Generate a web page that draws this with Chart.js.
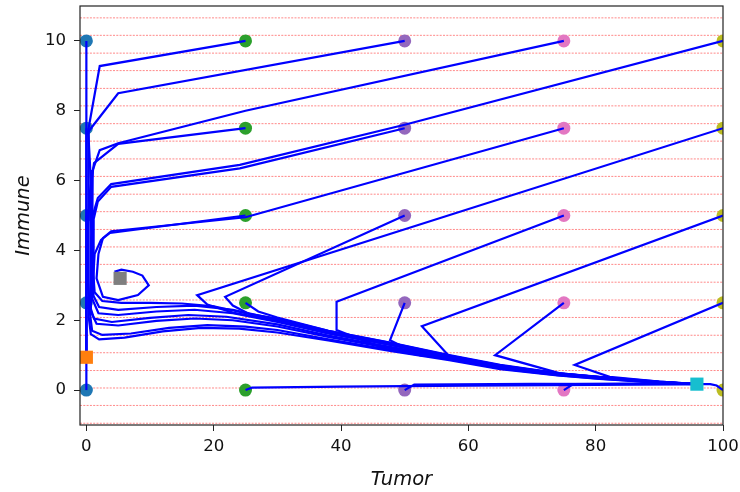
<!DOCTYPE html>
<html>
<head>
<meta charset="utf-8">
<script src="https://cdn.jsdelivr.net/npm/chart.js@4.4.1/dist/chart.umd.min.js"></script>
<style>
  body { margin: 0; background: #fff; }
  canvas { display: block; }
</style>
</head>
<body>
<canvas id="phase" width="740" height="492"></canvas>
<script>
// starting grid of the simulations
const startTumor = [0, 25, 50, 75, 100];
const startImmune = [0, 2.5, 5, 7.5, 10];
const startColors = ['#1f77b4', '#2ca02c', '#9467bd', '#e377c2', '#bcbd22'];

// fixed points (tumor, immune)
const fixedPoints = [[0, 0.94], [5.3, 3.2], [95.9, 0.17]];
const fixedColors = ['#ff7f0e', '#7f7f7f', '#17becf'];

// dotted reference levels of the immune variable
const guideLevels = [-0.95, -0.44, 0.06, 0.56, 1.07, 1.57, 2.08, 2.58, 3.09, 3.6, 4.1, 4.6,
  5.11, 5.61, 6.12, 6.62, 7.13, 7.63, 8.14, 8.64, 9.15, 9.65, 10.16, 10.66];

const xTicks = [0, 20, 40, 60, 80, 100];
const yTicks = [0, 2, 4, 6, 8, 10];

// trajectories, one list of (tumor, immune) per start point
const trajectories = [
  [[0, 10], [0, 0.94]],
  [[0, 7.5], [0, 0.94]],
  [[0, 5], [0, 0.94]],
  [[0, 2.5], [0, 0.94]],
  [[0, 0], [0, 0.94]],
  [[25, 10], [2.1, 9.28], [0.3, 7.45], [0.35, 6.0], [0.4, 4.5], [0.35, 3.0], [0.35, 2.1], [0.7, 1.6], [2, 1.45], [6, 1.5], [12, 1.68], [18, 1.78], [24, 1.76], [30, 1.65], [38, 1.42], [47.7, 1.12], [57, 0.86], [65, 0.6], [74, 0.42], [80.6, 0.32], [90, 0.21], [95.9, 0.17]],
  [[50, 10], [5, 8.5], [0.3, 7.4], [0.7, 6], [0.75, 4.5], [0.7, 3.2], [0.5, 2.3], [0.9, 1.7], [2.5, 1.58], [7, 1.62], [13, 1.78], [19, 1.86], [25, 1.82], [30, 1.72], [38, 1.45], [47.7, 1.15], [57, 0.88], [65, 0.62], [74, 0.43], [80.6, 0.33], [90, 0.21], [95.9, 0.17]],
  [[75, 10], [25, 8.0], [5, 7.07], [2.1, 6.87], [1.0, 6.3], [0.9, 5.2], [0.9, 4], [0.75, 2.8], [0.7, 2.25], [1.6, 1.9], [5, 1.85], [11, 1.98], [17, 2.05], [23, 2.0], [30, 1.82], [38, 1.52], [47.7, 1.2], [57, 0.9], [65, 0.64], [74, 0.44], [80.6, 0.34], [90, 0.22], [95.9, 0.17]],
  [[100, 10], [50, 7.6], [24.1, 6.45], [3.9, 5.9], [1.8, 5.5], [1.0, 5.0], [1.0, 4.2], [0.95, 3.2], [0.9, 2.6], [1.9, 2.2], [5, 2.15], [11, 2.25], [17, 2.3], [23, 2.2], [30, 1.95], [38, 1.62], [47.7, 1.3], [57, 0.96], [65, 0.68], [74, 0.47], [80.6, 0.36], [90, 0.23], [95.9, 0.17]],
  [[25, 7.5], [5, 7.05], [1.2, 6.5], [0.5, 5.6], [0.2, 4.5], [0.2, 3.2], [0.4, 2.5], [1.2, 2.05], [4, 1.95], [10, 2.07], [16, 2.15], [22, 2.1], [30, 1.88], [38, 1.56], [47.7, 1.24], [57, 0.93], [65, 0.66], [74, 0.45], [80.6, 0.35], [90, 0.22], [95.9, 0.17]],
  [[50, 7.5], [24.1, 6.35], [3.9, 5.82], [1.8, 5.4], [1.15, 4.9], [1.1, 4.0], [1.1, 3.2], [1.15, 2.7], [2, 2.38], [5, 2.3], [11, 2.38], [17, 2.42], [23, 2.3], [30, 2.02], [38, 1.66], [47.7, 1.33], [57, 0.98], [65, 0.7], [74, 0.48], [80.6, 0.37], [90, 0.23], [95.9, 0.17]],
  [[75, 7.5], [25, 4.95], [3.9, 4.55], [2.6, 4.35], [1.9, 3.9], [1.6, 3.2], [2.6, 2.67], [5, 2.58], [8.1, 2.72], [9.8, 3.0], [8.8, 3.28], [7.3, 3.39], [5.5, 3.45], [4.6, 3.4], [5.3, 3.2]],
  [[25, 5], [3.7, 4.5], [2.3, 4.3], [1.3, 3.9], [1.1, 3.3], [1.3, 2.8], [2.5, 2.55], [5.5, 2.5], [10, 2.5], [15, 2.48], [20, 2.4], [25, 2.2], [30, 2.05], [38, 1.7], [47.7, 1.36], [57, 1.0], [65, 0.72], [74, 0.49], [80.6, 0.38], [90, 0.24], [95.9, 0.17]],
  [[100, 7.5], [17.4, 2.72], [19, 2.45], [23, 2.22], [30, 1.98], [38, 1.64], [47.7, 1.3], [57, 0.97], [65, 0.69], [74, 0.47], [80.6, 0.36], [90, 0.23], [95.9, 0.17]],
  [[50, 5], [21.8, 2.67], [23, 2.42], [26.2, 2.12], [30, 1.98], [38, 1.63], [47.7, 1.3], [57, 0.96], [65, 0.68], [74, 0.47], [80.6, 0.36], [90, 0.23], [95.9, 0.17]],
  [[75, 5], [39.3, 2.53], [39.3, 1.72], [46.9, 1.18], [52.4, 1.0], [57, 0.9], [65, 0.65], [74, 0.45], [80.6, 0.35], [90, 0.22], [95.9, 0.17]],
  [[100, 5], [52.7, 1.83], [57.1, 0.95], [65, 0.66], [74, 0.46], [80.6, 0.35], [90, 0.22], [95.9, 0.17]],
  [[50, 2.5], [47.7, 1.43], [52.4, 1.0], [57, 0.92], [65, 0.65], [74, 0.45], [80.6, 0.35], [90, 0.22], [95.9, 0.17]],
  [[75, 2.5], [64.2, 1.0], [74.4, 0.48], [80.6, 0.37], [90, 0.23], [95.9, 0.17]],
  [[100, 2.5], [76.7, 0.72], [82.2, 0.38], [90, 0.24], [95.9, 0.17]],
  [[25, 2.5], [27, 2.25], [30, 2.08], [38, 1.7], [47.7, 1.35], [57, 0.99], [65, 0.71], [74, 0.48], [80.6, 0.37], [90, 0.23], [95.9, 0.17]],
  [[25, 0], [26, 0.07], [40, 0.1], [60, 0.13], [80, 0.15], [95.9, 0.17]],
  [[50, 0], [51.5, 0.16], [70, 0.18], [95.9, 0.17]],
  [[75, 0], [76.5, 0.17], [90, 0.19], [95.9, 0.17]],
  [[100, 0], [99, 0.13], [98, 0.17], [95.9, 0.17]]
];

const toPoints = pts => pts.map(p => ({ x: p[0], y: p[1] }));

const datasets = [];

guideLevels.forEach(level => {
  datasets.push({
    data: [{ x: -1, y: level }, { x: 100, y: level }],
    showLine: true,
    borderColor: 'rgba(255, 40, 40, 0.55)',
    borderWidth: 1,
    borderDash: [2, 1.3],
    pointRadius: 0,
    order: 4
  });
});

startTumor.forEach((x0, i) => {
  datasets.push({
    data: startImmune.map(y0 => ({ x: x0, y: y0 })),
    showLine: false,
    pointStyle: 'circle',
    pointRadius: 6.5,
    pointBackgroundColor: startColors[i],
    pointBorderWidth: 0,
    clip: 0,
    order: 3
  });
});

trajectories.forEach(path => {
  datasets.push({
    data: toPoints(path),
    showLine: true,
    borderColor: '#0000ff',
    borderWidth: 2.2,
    pointRadius: 0,
    tension: 0,
    order: 2
  });
});

fixedPoints.forEach((p, i) => {
  datasets.push({
    data: [{ x: p[0], y: p[1] }],
    showLine: false,
    pointStyle: 'rect',
    pointRadius: 9.3,
    pointBackgroundColor: fixedColors[i],
    pointBorderWidth: 0,
    clip: 0,
    order: 1
  });
});

// frame around the plotting area plus the two axis titles
const frameAndTitles = {
  id: 'frameAndTitles',
  afterDatasetsDraw(chart) {
    const { ctx, chartArea: a } = chart;
    ctx.save();
    ctx.strokeStyle = '#222';
    ctx.lineWidth = 1.2;
    ctx.strokeRect(a.left, a.top, a.right - a.left, a.bottom - a.top);
    ctx.restore();
  },
  afterDraw(chart) {
    const { ctx, chartArea: a } = chart;
    ctx.save();
    ctx.fillStyle = '#111';
    ctx.font = 'italic 19.5px "DejaVu Sans"';
    ctx.textAlign = 'center';
    ctx.textBaseline = 'alphabetic';
    ctx.fillText('Tumor', (a.left + a.right) / 2, 485);
    ctx.translate(28.5, (a.top + a.bottom) / 2);
    ctx.rotate(-Math.PI / 2);
    ctx.fillText('Immune', 0, 0);
    ctx.restore();
  }
};

const tickFont = { family: 'DejaVu Sans', size: 16.6 };

new Chart(document.getElementById('phase').getContext('2d'), {
  type: 'scatter',
  data: { datasets: datasets },
  options: {
    responsive: false,
    animation: false,
    layout: { autoPadding: false, padding: { top: 6, right: 17, left: 0, bottom: 0 } },
    plugins: { legend: { display: false }, tooltip: { enabled: false } },
    scales: {
      x: {
        type: 'linear',
        min: -1,
        max: 100,
        afterBuildTicks: s => { s.ticks = xTicks.map(v => ({ value: v })); },
        afterFit: s => { s.height = 67; s.paddingLeft = 0; s.paddingRight = 0; },
        grid: { drawOnChartArea: false, tickLength: 6, color: '#222', lineWidth: 1 },
        border: { display: false },
        ticks: { font: tickFont, color: '#111', padding: 6, maxRotation: 0 }
      },
      y: {
        type: 'linear',
        min: -1,
        max: 11,
        afterBuildTicks: s => { s.ticks = yTicks.map(v => ({ value: v })); },
        afterFit: s => { s.width = 80; s.paddingTop = 0; s.paddingBottom = 0; },
        grid: { drawOnChartArea: false, tickLength: 6, color: '#222', lineWidth: 1 },
        border: { display: false },
        ticks: { font: tickFont, color: '#111', padding: 8 }
      }
    }
  },
  plugins: [frameAndTitles]
});
</script>
</body>
</html>
